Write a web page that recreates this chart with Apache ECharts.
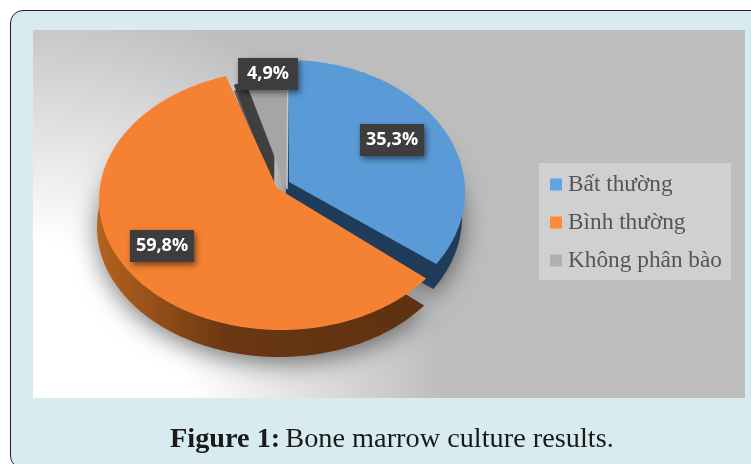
<!DOCTYPE html>
<html>
<head>
<meta charset="utf-8">
<title>Figure 1</title>
<script src="https://cdn.jsdelivr.net/npm/echarts@6/dist/echarts.min.js"></script>
<style>
html, body { margin: 0; width: 751px; height: 464px; overflow: hidden; background: #fff; }
.card {
  position: absolute; left: 10px; top: 10px; width: 800px; height: 457px;
  background: #d7ebf0; border: 1.5px solid #222; border-radius: 13px;
}
.plot {
  position: absolute; left: 33px; top: 30px; width: 712px; height: 368px;
  background: radial-gradient(circle at 0 100%, #fff 0, #fff 155px, #bdbdbd 410px);
}
#chart { position: absolute; left: 0; top: 0; width: 751px; height: 464px; }
</style>
</head>
<body>
<div class="card"></div>
<div class="plot"></div>
<div id="chart"></div>
<script>
const categories = ['Bất thường', 'Bình thường', 'Không phân bào']
const percentValues = [35.3, 59.8, 4.9]
const percentLabels = ['35,3%', '59,8%', '4,9%']
const sliceColors = ['#5a9ad6', '#f58233', '#a5a5a5']
const legendColors = ['#5fa5e6', '#ff8a3c', '#b0b0b0']

// 饼图是斜着看的椭圆，每块的椭圆中心、顶点和侧壁偏移都略有不同
const sliceShapes = [
  { cx: 288, cy: 192, rx: 177, ry: 132, tipX: 289, tipY: 182, endTrim: 4, wallX: -3, wallY: 25, wallScale: 1, wall: '#1f3d5a' },
  { cx: 281, cy: 200, rx: 182, ry: 130, tipX: 277, tipY: 188, endTrim: 0, wallX: -2, wallY: 27, wallScale: 1,
    wall: new echarts.graphic.LinearGradient(0, 0, 1, 0, [
      { offset: 0, color: '#b5621f' },
      { offset: 0.4, color: '#6a3712' },
      { offset: 1, color: '#5e3110' }
    ]) },
  { cx: 288, cy: 190, rx: 160, ry: 130, tipX: 287, tipY: 189, endTrim: 0, wallX: -13, wallY: 0, wallScale: 0.85, wall: '#404040' }
]
const labelCenters = [[392, 140], [162, 246], [268, 74]]
const labelSidePadding = [6, 6, 9]

const total = percentValues.reduce((a, b) => a + b, 0)

// 第 i 块的起始角度（从 12 点钟方向顺时针）
function startAngle(i) {
  let sum = 0
  for (let k = 0; k < i; k++) sum += percentValues[k]
  return sum / total * 360
}

function sectorPoints(i, value, dx, dy, scale) {
  const s = sliceShapes[i]
  const from = startAngle(i)
  const to = from + value / total * 360 - s.endTrim
  const points = [[s.tipX + dx, s.tipY + dy]]
  for (let a = from; a < to; a += 1) {
    const rad = a * Math.PI / 180
    points.push([s.cx + dx + s.rx * scale * Math.sin(rad), s.cy + dy - s.ry * scale * Math.cos(rad)])
  }
  const end = to * Math.PI / 180
  points.push([s.cx + dx + s.rx * scale * Math.sin(end), s.cy + dy - s.ry * scale * Math.cos(end)])
  return points
}

function sliceSeries(i, z) {
  const s = sliceShapes[i]
  return {
    type: 'custom',
    name: categories[i],
    coordinateSystem: 'none',
    z: z,
    itemStyle: { color: legendColors[i] },
    data: [[percentValues[i]]],
    renderItem: (params, api) => {
      const value = api.value(0)
      const face = sectorPoints(i, value, 0, 0, 1)
      const children = [
        {
          type: 'polygon',
          shape: { points: sectorPoints(i, value, s.wallX, s.wallY, s.wallScale) },
          style: { fill: s.wall, shadowBlur: i === 2 ? 0 : 24, shadowColor: 'rgba(0,0,0,0.5)', shadowOffsetY: 6 }
        },
        { type: 'polygon', shape: { points: face }, style: { fill: sliceColors[i] } }
      ]
      // 灰色块和蓝色块之间有一条浅色的线
      if (i === 2) {
        const last = face[face.length - 1]
        children.push({
          type: 'line',
          shape: { x1: last[0], y1: last[1], x2: face[0][0], y2: face[0][1] },
          style: { stroke: '#c9c9c9', lineWidth: 1.5 }
        })
      }
      return { type: 'group', children: children }
    }
  }
}

const labelSeries = {
  type: 'custom',
  name: 'labels',
  coordinateSystem: 'none',
  z: 10,
  data: percentLabels.map((text, i) => [i]),
  renderItem: (params, api) => {
    const i = api.value(0)
    return {
      type: 'text',
      x: labelCenters[i][0],
      y: labelCenters[i][1],
      style: {
        text: percentLabels[i],
        fill: '#fff',
        font: 'bold 18px "Open Sans"',
        align: 'center',
        verticalAlign: 'middle',
        backgroundColor: '#3d3d3d',
        padding: [7, labelSidePadding[i], 7, labelSidePadding[i]],
        shadowBlur: 6,
        shadowColor: 'rgba(0,0,0,0.5)',
        shadowOffsetX: 2,
        shadowOffsetY: 3
      }
    }
  }
}

const myChart = echarts.init(document.getElementById('chart'), null, { renderer: 'canvas' })
myChart.setOption({
  animation: false,
  backgroundColor: 'transparent',
  title: {
    left: 165,
    top: 421,
    textStyle: {
      rich: {
        b: { fontFamily: 'Liberation Serif', fontSize: 28.3, fontWeight: 'bold', color: '#1a1a1a' },
        n: { fontFamily: 'Liberation Serif', fontSize: 28.3, fontWeight: 'normal', color: '#1a1a1a' }
      }
    },
    text: '{b|Figure 1:} {n|Bone marrow culture results.}'
  },
  legend: {
    left: 539,
    top: 163,
    orient: 'vertical',
    data: categories,
    backgroundColor: '#d0d0d0',
    padding: [10, 9, 8, 11],
    itemWidth: 12,
    itemHeight: 12,
    itemGap: 15,
    icon: 'rect',
    textStyle: { fontFamily: 'Liberation Serif', fontSize: 23.3, color: '#555', padding: [0, 0, 0, 1] }
  },
  series: [sliceSeries(0, 2), sliceSeries(2, 3), sliceSeries(1, 4), labelSeries]
})
</script>
</body>
</html>
